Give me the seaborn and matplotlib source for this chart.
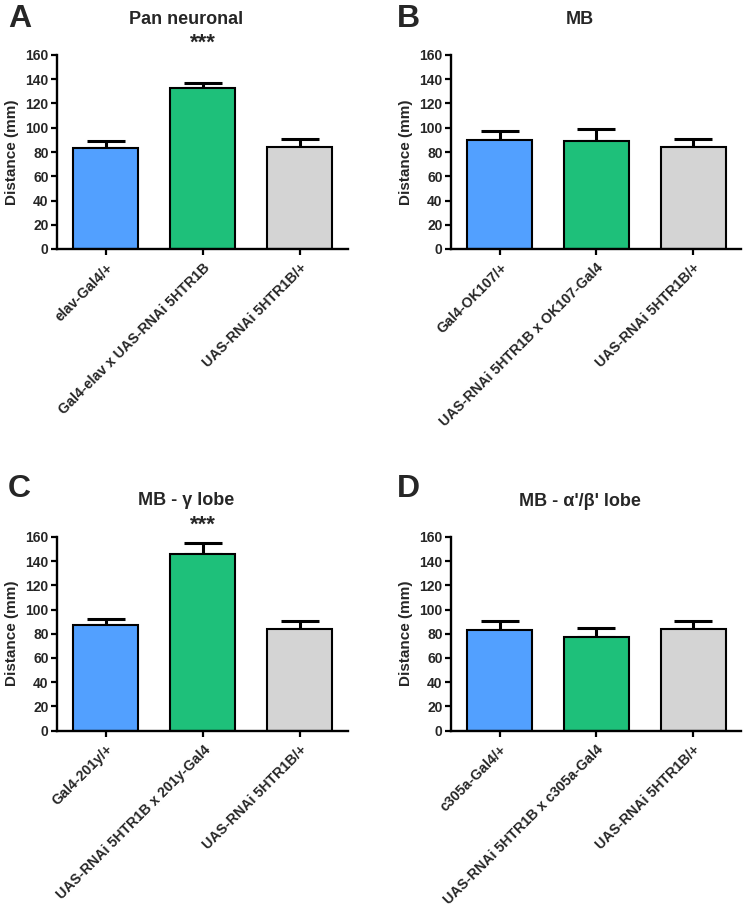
import matplotlib
matplotlib.use("Agg")
import matplotlib.pyplot as plt
import seaborn as sns
import numpy as np
import pandas as pd

sns.set_theme(style="white")
plt.rcParams['font.family'] = ['Liberation Sans', 'DejaVu Sans']
plt.rcParams['font.weight'] = 'bold'

# ---- data ----
titles = ["Pan neuronal", "MB", "MB - \u03b3 lobe", "MB - \u03b1'/\u03b2' lobe"]
letters = ["A", "B", "C", "D"]

labels_A = ["elav-Gal4/+", "Gal4-elav x UAS-RNAi 5HTR1B", "UAS-RNAi 5HTR1B/+"]
labels_B = ["Gal4-OK107/+", "UAS-RNAi 5HTR1B x OK107-Gal4", "UAS-RNAi 5HTR1B/+"]
labels_C = ["Gal4-201y/+", "UAS-RNAi 5HTR1B x 201y-Gal4", "UAS-RNAi 5HTR1B/+"]
labels_D = ["c305a-Gal4/+", "UAS-RNAi 5HTR1B x c305a-Gal4", "UAS-RNAi 5HTR1B/+"]

mean_A = [83.5, 132.5, 84.0]
sem_A = [5.3, 4.3, 6.6]
mean_B = [90.3, 89.4, 84.0]
sem_B = [7.3, 9.8, 6.9]
mean_C = [87.4, 146.3, 84.0]
sem_C = [4.6, 9.0, 6.4]
mean_D = [82.8, 77.5, 84.0]
sem_D = [7.8, 7.3, 6.9]

signif = ["***", "", "***", ""]

colors = ["#52A0FF", "#1EC07A", "#D4D4D4"]
yticks = [0, 20, 40, 60, 80, 100, 120, 140, 160]

W, H = 747, 911
fig = plt.figure(figsize=(W / 100, H / 100), dpi=100)

# axes boxes in pixels: left, top, right, bottom
boxes = [(57, 55, 348, 249), (451, 55, 741, 249),
         (57, 537, 348, 730.5), (451, 537, 741, 730.5)]
title_pos = [(186, 19), (580, 19), (186, 500), (580, 502)]
letter_pos = [(8, 19), (397, 19), (8, 489), (397, 489)]
ylabel_x = [12, 406, 12, 406]

all_labels = [labels_A, labels_B, labels_C, labels_D]
all_means = [mean_A, mean_B, mean_C, mean_D]
all_sems = [sem_A, sem_B, sem_C, sem_D]

for i in range(4):
    l, t, r, b = boxes[i]
    ax = fig.add_axes([l / W, 1 - b / H, (r - l) / W, (b - t) / H])
    df = pd.DataFrame({"group": all_labels[i], "value": all_means[i]})
    # error bars (upper only) drawn first, under bars
    ax.errorbar(x=np.arange(3), y=all_means[i],
                yerr=[np.zeros(3), all_sems[i]], fmt="none",
                ecolor="black", elinewidth=2.2, capsize=13.5, capthick=2.2,
                zorder=1)
    sns.barplot(data=df, x="group", y="value", hue="group", palette=colors,
                saturation=1, legend=False, width=0.67, edgecolor="black",
                linewidth=1.5, errorbar=None, ax=ax, zorder=2)
    ax.set_ylim(0, 160)
    ax.set_xlim(-0.505, 2.495)
    ax.set_yticks(yticks)
    ax.set_yticklabels([str(v) for v in yticks], fontsize=10, fontweight="bold")
    ax.set_xticks(range(3))
    ax.set_xticklabels(all_labels[i], rotation=45, ha="right", va="top",
                       rotation_mode="anchor", fontsize=10.2, fontweight="bold")
    ax.set_xlabel("")
    ax.set_ylabel("")
    for s in ["top", "right"]:
        ax.spines[s].set_visible(False)
    for s in ["left", "bottom"]:
        ax.spines[s].set_linewidth(1.7)
        ax.spines[s].set_color("black")
    ax.tick_params(axis="both", which="both", length=4.5, width=1.6,
                   color="black", direction="out", pad=1.5,
                   left=True, bottom=True)
    ax.tick_params(axis="x", pad=4)
    if signif[i]:
        ax.text(1, 170, signif[i], ha="center", va="center", fontsize=16,
                fontweight="bold", clip_on=False)
    fig.text(ylabel_x[i] / W, 1 - ((t + b) / 2) / H, "Distance (mm)",
             rotation=90, ha="center", va="center", fontsize=11,
             fontweight="bold")
    fig.text(title_pos[i][0] / W, 1 - title_pos[i][1] / H, titles[i],
             ha="center", va="center", fontsize=13, fontweight="bold")
    fig.text(letter_pos[i][0] / W, 1 - letter_pos[i][1] / H, letters[i],
             ha="left", va="center", fontsize=23, fontweight="bold")

fig.savefig("out.png", dpi=100, facecolor="white")
